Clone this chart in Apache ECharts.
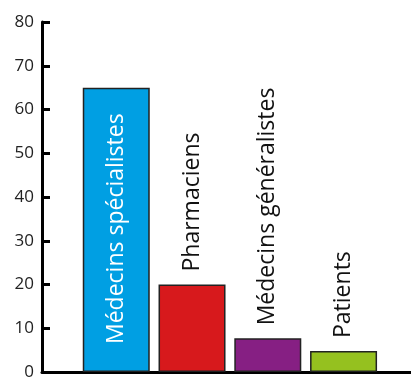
<!DOCTYPE html>
<html><head><meta charset="utf-8">
<script src="https://cdn.jsdelivr.net/npm/echarts@6/dist/echarts.min.js"></script>
<style>html,body{margin:0;padding:0;background:#fff}#c{width:411px;height:378px}</style>
</head><body><div id="c"></div>
<script>
var categories = ['Médecins spécialistes', 'Pharmaciens', 'Médecins généralistes', 'Patients'];
var values = [65, 20, 7.7, 4.8];
var colors = ['#009FE3', '#D7191C', '#861F83', '#95C11F'];
var positions = [1, 2, 3, 4];
var yTicks = [0, 10, 20, 30, 40, 50, 60, 70, 80];

var font = '"Open Sans", "Noto Sans", sans-serif';
var data = values.map(function (v, i) {
  var inside = i === 0;
  return {
    value: [positions[i], v],
    name: categories[i],
    itemStyle: { color: colors[i] },
    label: inside ? {
      position: 'insideBottom', distance: 28, color: '#fff'
    } : {
      position: 'top', distance: 13, color: '#111'
    }
  };
});

var chart = echarts.init(document.getElementById('c'), null, { renderer: 'canvas' });
chart.setOption({
  animation: false,
  grid: { left: 42, right: 0, top: 22, bottom: 6, containLabel: false, outerBoundsMode: 'none' },
  xAxis: {
    type: 'value', min: 0.02, max: 4.89,
    axisLine: { show: true, lineStyle: { color: '#000', width: 3 } },
    axisTick: { show: false }, axisLabel: { show: false }, splitLine: { show: false }
  },
  yAxis: {
    type: 'value', min: yTicks[0], max: yTicks[yTicks.length - 1], interval: 10,
    axisLine: { show: true, lineStyle: { color: '#000', width: 3 } },
    axisTick: { show: true, inside: true, length: 8, lineStyle: { color: '#000', width: 3 } },
    axisLabel: { color: '#222', fontSize: 17, fontFamily: font, margin: 8 },
    splitLine: { show: false }
  },
  series: [{
    type: 'bar',
    barWidth: 67,
    data: data,
    itemStyle: { borderColor: '#222', borderWidth: 1.5 },
    label: {
      show: true, rotate: 90, align: 'left', verticalAlign: 'middle',
      fontSize: 23, fontFamily: font,
      formatter: function (p) { return p.name; }
    }
  }]
});
</script></body></html>
